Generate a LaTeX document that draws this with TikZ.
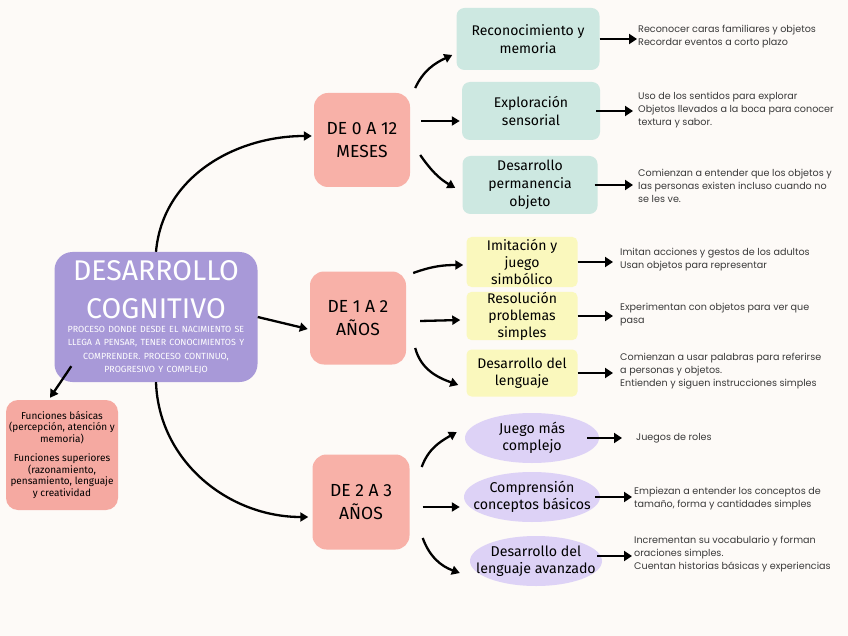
\documentclass[tikz,border=0pt]{standalone}
\usepackage{fontspec}
\setmainfont{Poppins}
\newfontfamily\handfont{Fira Sans}
\usetikzlibrary{arrows.meta,shapes.geometric}
\definecolor{paper}{HTML}{FDFAF7}
\definecolor{cogpurple}{HTML}{A899D8}
\definecolor{agepink}{HTML}{F8B1A8}
\definecolor{funcpink}{HTML}{F5A9A1}
\definecolor{tealbox}{HTML}{CDE8E1}
\definecolor{yellowbox}{HTML}{FAF8BD}
\definecolor{lilac}{HTML}{DDD2F6}
\definecolor{desctext}{HTML}{3A3A3A}
\begin{document}
\begin{tikzpicture}[x=1pt, y=1pt,
	conn/.style = {line width=2.3pt, -{Triangle[width=9pt,length=8pt]}},
	tip/.style = {line width=2.6pt, -{Triangle[width=10pt,length=8pt]}},
	agebox/.style = {rectangle, rounded corners=14pt, fill=agepink, minimum width=96pt, minimum height=94pt,
		align=center, font=\handfont\fontsize{17.5}{23}\selectfont},
	tealnode/.style = {rectangle, rounded corners=8pt, fill=tealbox, minimum height=58pt, inner sep=0pt,
		align=center, font=\handfont\fontsize{14}{18}\selectfont},
	yellownode/.style = {rectangle, rounded corners=5pt, fill=yellowbox, minimum width=111pt, minimum height=47pt, inner sep=0pt,
		align=center, font=\handfont\fontsize{14}{17}\selectfont},
	lilacnode/.style = {ellipse, fill=lilac, minimum height=50pt, inner ysep=0pt, inner xsep=-17pt,
		align=center, font=\handfont\fontsize{14.2}{17}\selectfont},
	desc/.style = {anchor=west, inner sep=0pt, align=left, text=desctext, font=\fontsize{9.6}{13}\selectfont}]
	\fill[paper] (0,0) rectangle (848,-636);
	\useasboundingbox (0,0) rectangle (848,-636);
	% centre and left box
	\node[rectangle, rounded corners=18pt, fill=cogpurple, text=white, minimum width=203pt, minimum height=130pt,
		text width=198pt, align=center, inner sep=0pt] (cog) at (156,-317)
		{{\handfont\fontsize{28.5}{38}\selectfont DESARROLLO\\COGNITIVO\par}\vspace{1pt}
		{\handfont\fontsize{8.9}{13.2}\selectfont PROCESO DONDE DESDE EL NACIMIENTO SE\\LLEGA A PENSAR, TENER CONOCIMIENTOS Y\\COMPRENDER. PROCESO CONTINUO,\\PROGRESIVO Y COMPLEJO\par}};
	\node[rectangle, rounded corners=12pt, fill=funcpink, minimum width=112pt, minimum height=110pt, inner sep=0pt,
		align=center, font=\handfont\fontsize{10}{11.5}\selectfont] (funcs) at (62,-455)
		{Funciones básicas\\(percepción, atención y\\memoria)\\[8pt]Funciones superiores\\(razonamiento,\\pensamiento, lenguaje\\y creatividad};
	% age boxes
	\node[agebox] (age1) at (362,-140) {DE 0 A 12\\MESES};
	\node[agebox, minimum height=93pt] (age2) at (358,-318) {DE 1 A 2\\AÑOS};
	\node[agebox, minimum width=97pt, minimum height=95pt] (age3) at (361,-502) {DE 2 A 3\\AÑOS};
	% first year
	\node[tealnode, minimum width=143pt, minimum height=62pt] (teal1) at (528,-39) {Reconocimiento y\\memoria};
	\node[tealnode, minimum width=138pt] (teal2) at (531,-111) {Exploración\\sensorial};
	\node[tealnode, minimum width=135pt] (teal3) at (530,-185) {Desarrollo\\permanencia\\objeto};
	% second year
	\node[yellownode, minimum height=50pt] (yel1) at (522,-262) {Imitación y\\juego\\simbólico};
	\node[yellownode] (yel2) at (522,-316) {Resolución\\problemas\\simples};
	\node[yellownode] (yel3) at (522,-373) {Desarrollo del\\lenguaje};
	% third year
	\node[lilacnode, minimum width=134pt] (lil1) at (532,-438) {Juego más\\complejo};
	\node[lilacnode, minimum width=136pt] (lil2) at (532,-497) {Comprensión\\conceptos básicos};
	\node[lilacnode, minimum width=132pt] (lil3) at (536,-561) {Desarrollo del\\lenguaje avanzado};
	% descriptions
	\node[desc] (d1) at (638,-37) {Reconocer caras familiares y objetos\\Recordar eventos a corto plazo};
	\node[desc] (d2) at (638,-110) {Uso de los sentidos para explorar\\Objetos llevados a la boca para conocer\\textura y sabor.};
	\node[desc] (d3) at (638,-186) {Comienzan a entender que los objetos y\\las personas existen incluso cuando no\\se les ve.};
	\node[desc] (d4) at (620,-260) {Imitan acciones y gestos de los adultos\\Usan objetos para representar};
	\node[desc] (d5) at (620,-315) {Experimentan con objetos para ver que\\pasa};
	\node[desc] (d6) at (620,-371) {Comienzan a usar palabras para referirse\\a personas y objetos.\\Entienden y siguen instrucciones simples};
	\node[desc] (d7) at (636,-438) {Juegos de roles};
	\node[desc] (d8) at (634,-499) {Empiezan a entender los conceptos de\\tamaño, forma y cantidades simples};
	\node[desc] (d9) at (634,-554) {Incrementan su vocabulario y forman\\oraciones simples.\\Cuentan historias básicas y experiencias};
	% centre to ages
	\draw[conn] (cog.north) to[out=85, in=180] ([shift={(-2,4)}]age1.west);
	\draw[conn] (cog.east) -- ([shift={(-2,-11)}]age2.west);
	\draw[conn] (cog.south) to[out=-88, in=180] ([shift={(-4,-15)}]age3.west);
	\draw[conn] ([shift={(17,16)}]cog.south west) -- ([shift={(-12,2)}]funcs.north);
	% ages to topics
	\draw[conn] ([shift={(5,52)}]age1.east) to[out=65, in=205] ([shift={(-4,-16)}]teal1.west);
	\draw[conn] ([shift={(11,19)}]age1.east) -- ([shift={(-2,-10)}]teal2.west);
	\draw[conn] ([shift={(10,-15)}]age1.east) to[out=-55, in=150] ([shift={(-7,-3)}]teal3.west);
	\draw[conn] ([shift={(7,45)}]age2.east) to[out=20, in=180] ([shift={(-3,-3)}]yel1.west);
	\draw[conn] ([shift={(14,-3)}]age2.east) -- ([shift={(-6,-4)}]yel2.west);
	\draw[conn] ([shift={(9,-30)}]age2.east) to[out=-75, in=160] ([shift={(-8,-12)}]yel3.west);
	\draw[conn] ([shift={(12,35)}]age3.east) to[out=70, in=210] ([shift={(-8,6)}]lil1.west);
	\draw[conn] ([shift={(13,-5)}]age3.east) -- ([shift={(-4,-10)}]lil2.west);
	\draw[conn] ([shift={(13,-36)}]age3.east) to[out=-70, in=160] ([shift={(-10,-12)}]lil3.west);
	% topics to descriptions
	\draw[tip] (teal1.east) -- ([xshift=-1pt]teal1.east -| d1.west);
	\draw[tip] ([xshift=-4pt]teal2.east) -- ([xshift=-5pt]teal2.east -| d2.west);
	\draw[tip] ([xshift=-3pt]teal3.east) -- ([xshift=-5pt]teal3.east -| d3.west);
	\draw[tip] (yel1.east) -- ([xshift=-7pt]yel1.east -| d4.west);
	\draw[tip] (yel2.east) -- ([xshift=-7pt]yel2.east -| d5.west);
	\draw[tip] (yel3.east) -- ([xshift=-7pt]yel3.east -| d6.west);
	\draw[tip] ([xshift=-12pt]lil1.east) -- ([xshift=-14pt]lil1.east -| d7.west);
	\draw[tip] ([xshift=-5pt]lil2.east) -- ([xshift=-2pt]lil2.east -| d8.west);
	\draw[tip] ([shift={(-5pt,5pt)}]lil3.east) -- ([shift={(-2pt,5pt)}]lil3.east -| d9.west);
\end{tikzpicture}
\end{document}
